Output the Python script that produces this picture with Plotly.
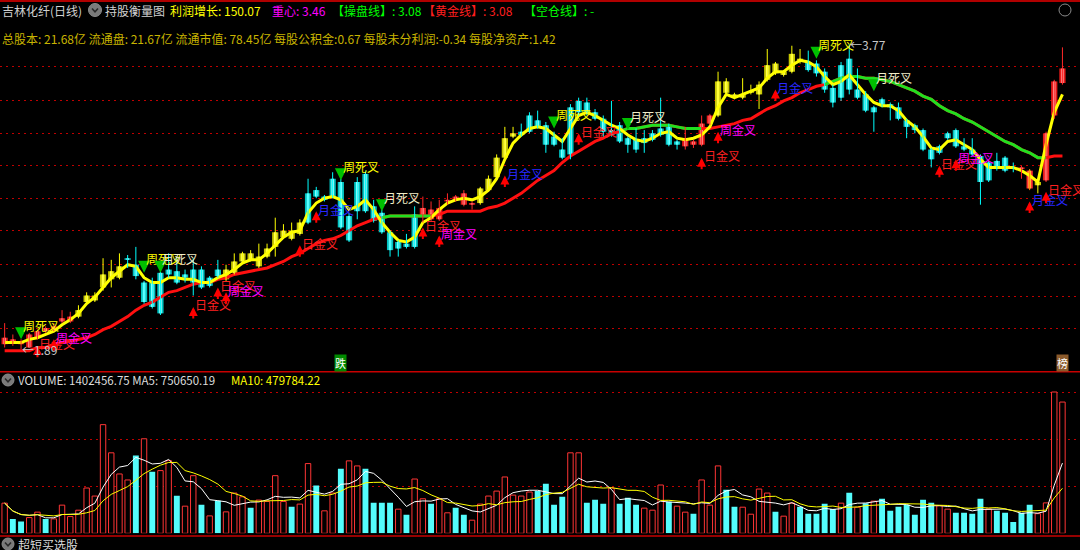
import plotly.graph_objects as go
import pandas as pd

# ---------------- data ----------------
open_ = [1.92,1.93,1.92,1.90,1.96,2.00,2.01,2.06,2.06,2.09,
         2.18,2.19,2.27,2.32,2.33,2.45,2.41,2.30,2.30,2.36,
         2.38,2.37,2.35,2.38,2.38,2.33,2.38,2.32,2.36,2.43,
         2.44,2.40,2.46,2.52,2.58,2.57,2.60,2.85,2.87,2.83,
         2.94,2.92,2.71,2.92,2.97,2.77,2.73,2.61,2.55,2.54,
         2.72,2.71,2.69,2.69,2.80,2.81,2.78,2.78,2.79,2.87,
         2.95,3.07,3.20,3.23,3.33,3.30,3.27,3.20,3.12,3.38,
         3.42,3.41,3.35,3.31,3.24,3.27,3.19,3.18,3.19,3.22,
         3.25,3.27,3.17,3.14,3.15,3.15,3.28,3.33,3.47,3.44,
         3.44,3.47,3.46,3.55,3.59,3.58,3.60,3.67,3.66,3.65,
         3.60,3.50,3.64,3.68,3.49,3.46,3.38,3.43,3.40,3.38,
         3.30,3.27,3.24,3.12,3.14,3.22,3.24,3.14,3.12,3.08,
         3.04,3.05,3.07,3.01,3.00,2.99,2.90,2.93,3.33,3.53]
high = [2.05,1.98,1.95,1.99,2.01,2.03,2.05,2.13,2.12,2.16,
        2.24,2.24,2.45,2.44,2.48,2.47,2.52,2.31,2.33,2.42,
        2.48,2.46,2.38,2.45,2.40,2.34,2.44,2.41,2.48,2.49,
        2.50,2.54,2.54,2.70,2.66,2.67,2.69,2.94,2.89,2.84,
        2.98,2.94,2.73,2.95,2.99,2.81,2.75,2.62,2.56,2.60,
        2.77,2.83,2.80,2.81,2.85,2.84,2.87,2.80,2.89,2.96,
        3.09,3.26,3.26,3.28,3.35,3.36,3.29,3.23,3.19,3.40,
        3.44,3.44,3.37,3.33,3.42,3.29,3.20,3.25,3.24,3.24,
        3.44,3.28,3.18,3.26,3.18,3.33,3.34,3.60,3.56,3.47,
        3.56,3.52,3.54,3.74,3.66,3.61,3.76,3.74,3.73,3.67,
        3.62,3.52,3.66,3.77,3.62,3.48,3.39,3.44,3.41,3.41,
        3.31,3.28,3.25,3.13,3.15,3.23,3.25,3.19,3.19,3.09,
        3.05,3.10,3.08,3.04,3.02,3.00,2.93,3.23,3.55,3.75]
low = [1.90,1.91,1.89,1.90,1.95,1.99,2.00,2.05,2.05,2.08,
       2.17,2.18,2.25,2.27,2.32,2.39,2.32,2.17,2.14,2.10,
       2.33,2.29,2.30,2.22,2.26,2.27,2.33,2.31,2.35,2.42,
       2.43,2.39,2.45,2.46,2.57,2.56,2.59,2.66,2.82,2.80,
       2.82,2.63,2.55,2.69,2.73,2.67,2.60,2.46,2.46,2.51,
       2.51,2.67,2.68,2.68,2.78,2.80,2.77,2.75,2.78,2.86,
       2.94,3.06,3.19,3.20,3.22,3.25,3.10,3.14,3.06,3.06,
       3.33,3.33,3.30,3.20,3.20,3.16,3.10,3.10,3.10,3.17,
       3.20,3.14,3.12,3.12,3.13,3.14,3.27,3.32,3.46,3.43,
       3.43,3.46,3.37,3.54,3.58,3.57,3.59,3.65,3.60,3.57,
       3.47,3.38,3.42,3.46,3.43,3.35,3.23,3.38,3.30,3.30,
       3.19,3.22,3.11,3.01,3.09,3.18,3.13,3.11,3.08,2.78,
       2.92,2.99,2.98,2.98,2.94,2.87,2.85,2.92,3.31,3.52]
close = [1.96,1.95,1.93,1.98,2.00,2.02,2.03,2.08,2.09,2.13,
         2.22,2.22,2.35,2.37,2.40,2.44,2.34,2.18,2.15,2.11,
         2.35,2.30,2.33,2.30,2.27,2.28,2.34,2.38,2.43,2.48,
         2.48,2.46,2.51,2.61,2.62,2.62,2.67,2.67,2.83,2.81,
         2.83,2.64,2.56,2.74,2.74,2.68,2.61,2.50,2.51,2.52,
         2.52,2.76,2.75,2.76,2.81,2.83,2.85,2.79,2.88,2.94,
         3.07,3.19,3.22,3.21,3.23,3.26,3.15,3.15,3.07,3.09,
         3.35,3.35,3.31,3.23,3.21,3.17,3.15,3.12,3.16,3.18,
         3.21,3.15,3.15,3.19,3.17,3.28,3.33,3.54,3.54,3.46,
         3.46,3.48,3.52,3.64,3.65,3.60,3.71,3.68,3.61,3.59,
         3.49,3.41,3.44,3.49,3.44,3.36,3.35,3.39,3.38,3.31,
         3.26,3.24,3.12,3.06,3.10,3.19,3.14,3.12,3.09,2.92,
         2.93,3.00,2.99,3.00,3.01,2.88,2.92,3.22,3.54,3.62]
# indicator state of each candle: R = red, Y = hold (yellow), C = weak (cyan), O = mixed
state = ("RRRRRRRRRY" "YYYYYCCCCC" "CCCCCCCYYY" "YYYYYYYCCC" "CCCCCCCCCC"
         "CRRRRRRRYY" "YYYCCCCCCC" "CCCCCCCCCC" "CCCRRRRYYY" "YYYYYYYYCC"
         "CCCCCCCCCC" "CCCCCCCCCC" "CCCCROYRRR")

volume = [322e3,154e3,125e3,168e3,226e3,154e3,154e3,301e3,179e3,247e3,
          484e3,398e3,1161e3,860e3,634e3,570e3,831e3,1010e3,659e3,670e3,
          777e3,401e3,290e3,616e3,304e3,186e3,347e3,229e3,430e3,390e3,
          272e3,355e3,340e3,616e3,340e3,283e3,312e3,745e3,512e3,240e3,
          430e3,691e3,774e3,720e3,691e3,326e3,326e3,326e3,258e3,197e3,
          580e3,369e3,315e3,369e3,219e3,272e3,197e3,140e3,312e3,398e3,
          451e3,602e3,408e3,398e3,441e3,451e3,530e3,304e3,390e3,860e3,
          860e3,326e3,358e3,315e3,484e3,315e3,380e3,304e3,269e3,247e3,
          516e3,337e3,290e3,226e3,208e3,570e3,301e3,720e3,466e3,283e3,
          279e3,204e3,473e3,430e3,229e3,183e3,322e3,283e3,208e3,208e3,
          315e3,261e3,322e3,433e3,279e3,322e3,344e3,369e3,240e3,283e3,
          304e3,197e3,358e3,326e3,294e3,258e3,219e3,219e3,208e3,369e3,
          261e3,240e3,219e3,122e3,219e3,304e3,210e3,325e3,1510e3,1402456.75]
vol_up = [1,0,0,1,1,0,1,1,1,1, 1,1,1,1,1,1,0,1,0,1,
          1,0,1,1,0,1,0,1,1,1, 0,1,1,1,1,0,1,1,0,1,
          1,0,1,1,0,0,0,0,1,0, 1,1,0,1,1,0,0,1,1,1,
          1,1,1,1,1,0,0,0,0,1, 1,0,0,0,1,0,0,0,1,1,
          1,0,1,1,0,1,1,1,0,0, 1,1,1,1,0,1,1,0,0,0,
          0,0,1,0,1,0,1,0,0,0, 0,0,0,0,1,1,0,0,0,0,
          1,0,0,0,0,0,1,1,1,1]

# long trend line (red / green) and short line (yellow)
trend_line = [1.88,1.88,1.88,1.88,1.90,1.90,1.92,1.93,1.94,1.95,
              1.96,1.98,2.01,2.03,2.06,2.09,2.13,2.16,2.18,2.21,
              2.24,2.25,2.27,2.29,2.30,2.30,2.32,2.33,2.35,2.36,
              2.37,2.38,2.39,2.41,2.43,2.46,2.48,2.51,2.54,2.56,
              2.57,2.59,2.62,2.65,2.67,2.69,2.70,2.71,2.71,2.71,
              2.71,2.71,2.71,2.72,2.74,2.74,2.74,2.74,2.74,2.76,
              2.77,2.79,2.82,2.85,2.89,2.93,2.96,2.99,3.04,3.08,
              3.11,3.14,3.17,3.19,3.22,3.23,3.25,3.25,3.26,3.27,
              3.27,3.27,3.26,3.25,3.25,3.25,3.25,3.26,3.27,3.28,
              3.30,3.31,3.34,3.37,3.39,3.42,3.44,3.47,3.49,3.51,
              3.52,3.54,3.56,3.57,3.57,3.56,3.56,3.55,3.54,3.52,
              3.50,3.48,3.45,3.43,3.39,3.36,3.34,3.31,3.29,3.26,
              3.23,3.20,3.17,3.15,3.12,3.10,3.07,3.07,3.08,3.08]
short_line = [1.93,1.93,1.93,1.95,1.96,1.98,2.00,2.04,2.07,2.11,
              2.17,2.21,2.27,2.33,2.37,2.41,2.40,2.33,2.30,2.30,
              2.33,2.33,2.32,2.32,2.30,2.30,2.33,2.35,2.38,2.42,
              2.44,2.44,2.48,2.53,2.58,2.61,2.62,2.73,2.79,2.82,
              2.83,2.81,2.75,2.77,2.81,2.75,2.67,2.61,2.56,2.55,
              2.58,2.67,2.70,2.75,2.79,2.81,2.82,2.81,2.83,2.87,
              2.94,3.06,3.16,3.21,3.25,3.26,3.25,3.21,3.17,3.25,
              3.33,3.35,3.33,3.30,3.27,3.25,3.21,3.18,3.17,3.19,
              3.22,3.23,3.19,3.18,3.19,3.21,3.26,3.38,3.46,3.44,
              3.46,3.48,3.50,3.56,3.60,3.60,3.64,3.67,3.66,3.63,
              3.57,3.52,3.54,3.58,3.52,3.46,3.41,3.39,3.39,3.36,
              3.30,3.26,3.20,3.13,3.12,3.17,3.18,3.15,3.12,3.06,
              3.01,3.01,3.01,3.01,2.99,2.96,2.92,3.15,3.35,3.46]
# index spans where the trend line is shown in green
green_spans = [(46, 52), (75, 85), (100, 127)]

# cross signals: candle index, kind, arrow-tip price
sig_i = [2, 4, 6, 17, 19, 23, 26, 27, 36, 38, 41, 46, 51, 53, 61, 67, 70, 76,
         85, 87, 94, 99, 106, 114, 116, 125, 127]
sig_kind = ["周死叉", "日金叉", "周金叉", "周死叉", "月死叉", "日金叉", "日金叉", "周金叉",
            "日金叉", "月金叉", "周死叉", "月死叉", "日金叉", "周金叉", "月金叉", "周死叉",
            "日金叉", "月死叉", "日金叉", "周金叉", "月金叉", "周死叉", "月死叉", "日金叉",
            "周金叉", "月金叉", "日金叉"]
sig_tip = [1.95, 1.91, 1.95, 2.36, 2.36, 2.15, 2.27, 2.24, 2.53, 2.74, 2.93, 2.74,
           2.64, 2.59, 2.96, 3.25, 3.22, 3.24, 3.07, 3.23, 3.49, 3.68, 3.48, 3.02,
           3.06, 2.80, 2.86]

low_idx, low_val = 2, 1.89
high_idx, high_val = 103, 3.77

# ---------------- figure ----------------
W, H = 1080, 550
FONT = "Noto Sans CJK SC"
N = len(close)
X = list(range(N))


def px(x):
    return x / W


def py(y):
    return 1 - y / H


fig = go.Figure()

# trend line (red) + green spans
fig.add_trace(go.Scatter(x=X, y=trend_line, mode="lines", xaxis="x", yaxis="y",
                         line=dict(color="#FF1010", width=3), hoverinfo="skip"))
for a, b in green_spans:
    fig.add_trace(go.Scatter(x=X[a:b + 1], y=trend_line[a:b + 1], mode="lines",
                             line=dict(color="#20E020", width=3), hoverinfo="skip"))
# yellow line
fig.add_trace(go.Scatter(x=X, y=short_line, mode="lines",
                         line=dict(color="#FFFF00", width=3), hoverinfo="skip"))

style = {
    "R": dict(edge="#E81818", center="#FF9A9A", wick="#FF2828"),
    "Y": dict(edge="#C8C800", center="#FFFF70", wick="#FFFF00"),
    "C": dict(edge="#00C4C4", center="#A8FFFF", wick="#00FFFF"),
    "O": dict(edge="#FF3030", center="#FFD040", wick="#FF8000"),
}
for s, st in style.items():
    idx = [i for i in X if state[i] == s]
    if not idx:
        continue
    wx, wy = [], []
    for i in idx:
        wx += [i, i, None]
        wy += [low[i], high[i], None]
    fig.add_trace(go.Scatter(x=wx, y=wy, mode="lines", line=dict(color=st["wick"], width=1),
                             hoverinfo="skip"))
    base = [min(open_[i], close[i]) for i in idx]
    hgt = [max(abs(close[i] - open_[i]), 0.009) for i in idx]
    fig.add_trace(go.Bar(x=idx, y=hgt, base=base, width=0.76, marker=dict(color=st["edge"], line=dict(width=0)),
                         hoverinfo="skip"))
    fig.add_trace(go.Bar(x=idx, y=hgt, base=base, width=0.3, marker=dict(color=st["center"], line=dict(width=0)),
                         hoverinfo="skip"))

# volume
vs = pd.Series(volume)
ma5 = vs.rolling(5, min_periods=1).mean()
ma10 = vs.rolling(10, min_periods=1).mean()
up_x = [i for i in X if vol_up[i]]
dn_x = [i for i in X if not vol_up[i]]
fig.add_trace(go.Bar(x=dn_x, y=[volume[i] for i in dn_x], width=0.72, xaxis="x2", yaxis="y2",
                     marker=dict(color="#54FCFC", line=dict(width=0)), hoverinfo="skip"))
fig.add_trace(go.Bar(x=up_x, y=[volume[i] for i in up_x], width=0.66, xaxis="x2", yaxis="y2",
                     marker=dict(color="#000000", line=dict(color="#FF3535", width=1)), hoverinfo="skip"))
fig.add_trace(go.Scatter(x=X, y=ma5, mode="lines", xaxis="x2", yaxis="y2",
                         line=dict(color="#FFFFFF", width=1), hoverinfo="skip"))
fig.add_trace(go.Scatter(x=X, y=ma10, mode="lines", xaxis="x2", yaxis="y2",
                         line=dict(color="#FFFF00", width=1), hoverinfo="skip"))

# ---------------- axes ----------------
x_rng = [-4.65 / 8.2, (W - 4.65) / 8.2]
p_rng = [1.79178, 3.85705]
grid_prices = [2.014, 2.217, 2.414, 2.618, 2.821, 3.019, 3.222, 3.425, 3.629]
axis_common = dict(showticklabels=False, zeroline=False, showline=False, ticks="")
fig.update_layout(
    width=W, height=H,
    margin=dict(l=0, r=0, t=0, b=0, pad=0),
    paper_bgcolor="#000000", plot_bgcolor="#000000",
    showlegend=False, hovermode=False, barmode="overlay",
    xaxis=dict(domain=[0, 1], range=x_rng, anchor="y", showgrid=False, **axis_common),
    yaxis=dict(domain=[py(365), py(30)], range=p_rng, tickvals=grid_prices, showgrid=True,
               gridcolor="#C00000", griddash="2px,4px", gridwidth=1, anchor="x", **axis_common),
    xaxis2=dict(domain=[0, 1], range=x_rng, anchor="y2", showgrid=False, **axis_common),
    yaxis2=dict(domain=[py(533.3), py(371.7)], range=[0, 1726878], tickvals=[500000, 1000000, 1500000],
                showgrid=True, gridcolor="#C00000", griddash="2px,4px", gridwidth=1, anchor="x2",
                **axis_common),
)

# ---------------- signals ----------------
sig_style = {
    "日金叉": dict(text="#FF2020", arrow="#FF0000", up=True),
    "周金叉": dict(text="#FF00FF", arrow="#FF0000", up=True),
    "月金叉": dict(text="#2828FF", arrow="#FF0000", up=True),
    "周死叉": dict(text="#FFFF00", arrow="#00C000", up=False),
    "月死叉": dict(text="#F2EEC8", arrow="#00C000", up=False),
}
for i, kind, tip in zip(sig_i, sig_kind, sig_tip):
    st = sig_style[kind]
    if st["up"]:
        fig.add_annotation(x=i, y=tip, xref="x", yref="y", text="", showarrow=True, ax=0, ay=13,
                           arrowhead=2, arrowsize=0.9, arrowwidth=2, arrowcolor=st["arrow"])
        fig.add_annotation(x=i, y=tip, xref="x", yref="y", text=kind, showarrow=False,
                           xanchor="left", yanchor="middle", xshift=1, yshift=2, borderpad=0,
                           font=dict(family=FONT, size=12, color=st["text"]))
    else:
        fig.add_annotation(x=i, y=tip, xref="x", yref="y", text="", showarrow=True, ax=0, ay=-11,
                           arrowhead=2, arrowsize=1.2, arrowwidth=2, arrowcolor=st["arrow"])
        fig.add_annotation(x=i, y=tip, xref="x", yref="y", text=kind, showarrow=False,
                           xanchor="left", yanchor="middle", xshift=1, yshift=14, borderpad=0,
                           font=dict(family=FONT, size=12, color=st["text"]))

# min / max price labels
fig.add_annotation(x=low_idx, y=low_val, xref="x", yref="y", text=f"←{low_val:.2f}", showarrow=False,
                   xanchor="left", yanchor="middle", borderpad=0,
                   font=dict(family=FONT, size=12, color="#C8C8C8"))
fig.add_annotation(x=high_idx, y=high_val, xref="x", yref="y", text=f"←{high_val:.2f}", showarrow=False,
                   xanchor="left", yanchor="middle", borderpad=0,
                   font=dict(family=FONT, size=12, color="#C8C8C8"))

# small boxes at the bottom of the price panel
fig.add_annotation(x=41, y=py(363), xref="x", yref="paper", text="跌", showarrow=False,
                   bgcolor="#008A00", borderpad=0, font=dict(family=FONT, size=11, color="#FFFFFF"))
fig.add_annotation(x=N - 1, y=py(363), xref="x", yref="paper", text="榜", showarrow=False,
                   bgcolor="#8B5A2B", borderpad=0, font=dict(family=FONT, size=11, color="#FFFFFF"))


# ---------------- header texts ----------------
def txt(x, y, s, color, size=12):
    fig.add_annotation(x=px(x), y=py(y), xref="paper", yref="paper", text=s, showarrow=False,
                       xanchor="left", yanchor="middle", borderpad=0,
                       font=dict(family=FONT, size=size, color=color))


txt(1, 10, "吉林化纤(日线)", "#D2D2D2")
txt(104, 10, "持股衡量图", "#D2D2D2")
txt(169, 10, "利润增长: 150.07", "#FFFF00")
txt(271, 10, "重心: 3.46", "#FF00FF")
txt(331, 10, "【操盘线】: 3.08", "#00FF00")
txt(422, 10, "【黄金线】: 3.08", "#FF1E1E")
txt(523, 10, "【空仓线】: -", "#00FF00")
txt(1, 38, "总股本: 21.68亿 流通盘: 21.67亿 流通市值: 78.45亿 每股公积金:0.67 每股未分利润:-0.34 每股净资产:1.42",
    "#C8B400")
txt(17, 380, "VOLUME: 1402456.75 MA5: 750650.19", "#DCDCDC", 11.5)
txt(230, 380, "MA10: 479784.22", "#FFFF00", 11.5)
txt(17, 544, "超短买选股", "#DCDCDC")

# ---------------- frame lines & icons ----------------
shapes = []
for yy, c, w in [(1, "#B00000", 2), (371.7, "#C80000", 1.5), (536, "#C80000", 1.5)]:
    shapes.append(dict(type="line", xref="paper", yref="paper", x0=0, x1=1, y0=py(yy), y1=py(yy),
                       line=dict(color=c, width=w)))


def icon(cx, cy, r, filled=True):
    shapes.append(dict(type="circle", xref="paper", yref="paper",
                       x0=px(cx - r), x1=px(cx + r), y0=py(cy + r), y1=py(cy - r),
                       fillcolor="#7A7A7A" if filled else "rgba(0,0,0,0)",
                       line=dict(color="#8A8A8A", width=1)))
    if filled:
        shapes.append(dict(type="path", xref="paper", yref="paper",
                           path=f"M {px(cx - 3)},{py(cy - 1.5)} L {px(cx)},{py(cy + 1.8)} L {px(cx + 3)},{py(cy - 1.5)}",
                           line=dict(color="#2A2A2A", width=1.6)))


icon(95, 10, 6.5)
icon(8, 380, 6)
icon(8, 544, 6)
icon(1065, 10, 6, filled=False)
fig.update_layout(shapes=shapes)

fig.write_html("out.html", config={"displayModeBar": False, "staticPlot": True},
               post_script="document.body.style.margin='0';document.body.style.padding='0';"
                           "document.body.style.overflow='hidden';document.body.style.background='#000';")
